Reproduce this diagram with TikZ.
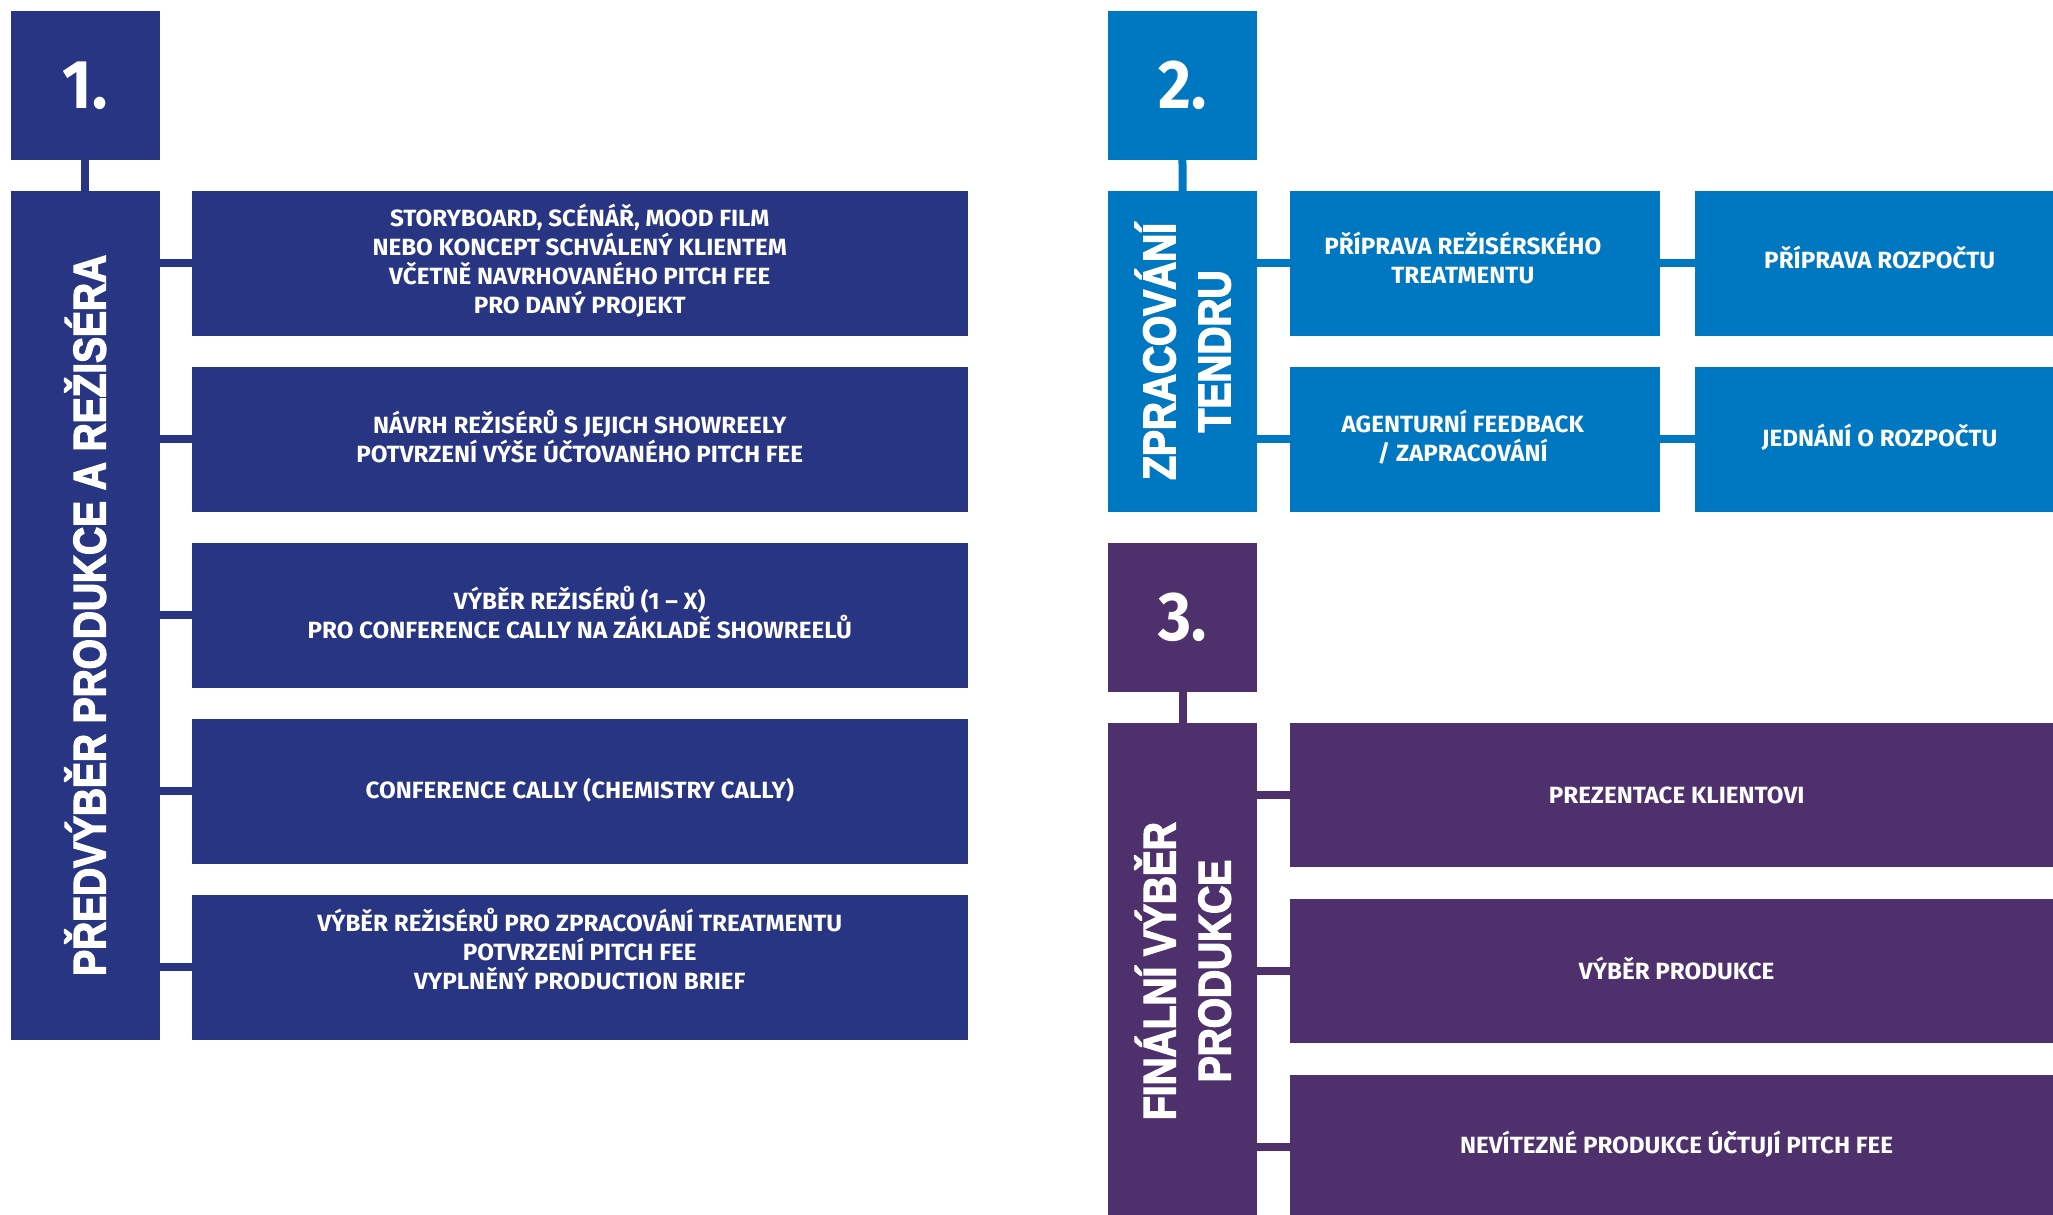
\documentclass[tikz,border=0pt]{standalone}
\usepackage{fontspec}
\newfontfamily\boxfont{Fira Sans}[FakeStretch=1.03]
\newfontfamily\numfont{Fira Sans}[FakeStretch=0.92]
\newfontfamily\labfont{Liberation Sans}[UprightFont={* Bold}, FakeStretch=0.85, FakeBold=3]
\definecolor{navy}{HTML}{283583}
\definecolor{sky}{HTML}{0077C1}
\definecolor{plum}{HTML}{4E306D}
\begin{document}
\begin{tikzpicture}[x=1pt,y=-1pt,
  blk/.style={rectangle, inner sep=0pt, outer sep=0pt, anchor=north west, draw=none},
  numbox/.style={blk, minimum width=148.5pt, minimum height=148.5pt, text=white,
    font=\numfont\bfseries\fontsize{69}{69}\selectfont},
  subbox/.style={blk, minimum width=775.5pt, minimum height=144.6pt},
  halfbox/.style={blk, minimum width=369.7pt, minimum height=144.6pt},
  tx/.style={text=white, align=center, inner sep=0pt, yshift=2.5pt,
    font=\boxfont\bfseries\fontsize{23.5}{29.1}\selectfont},
  lab/.style={text=white, align=center, inner sep=0pt, rotate=90,
    font=\labfont\fontsize{45.7}{55}\selectfont},
  link/.style={line width=8pt}
]
\useasboundingbox (0,0) rectangle (2053,1215);
\fill[white] (0,0) rectangle (2053,1215);
\clip (0,0) rectangle (2053,1215);

% ---------- column 1 ----------
\node[numbox, fill=navy] (n1) at (11,11.1) {1.};
\node[blk, fill=navy, minimum width=148.5pt, minimum height=848.6pt] (t1) at (11,191) {};
\node[lab] (l1) at (t1.center) {PŘEDVÝBĚR PRODUKCE A REŽISÉRA};
\node[subbox, fill=navy] (b1) at (192,191) {};
\node[subbox, fill=navy] (b2) at (192,367) {};
\node[subbox, fill=navy] (b3) at (192,543) {};
\node[subbox, fill=navy] (b4) at (192,719) {};
\node[subbox, fill=navy] (b5) at (192,895) {};
\node[tx] (tb1) at (b1.center) {STORYBOARD, SCÉNÁŘ, MOOD FILM\\NEBO KONCEPT SCHVÁLENÝ KLIENTEM\\VČETNĚ NAVRHOVANÉHO PITCH FEE\\PRO DANÝ PROJEKT};
\node[tx] (tb2) at (b2.center) {NÁVRH REŽISÉRŮ S JEJICH SHOWREELY\\POTVRZENÍ VÝŠE ÚČTOVANÉHO PITCH FEE};
\node[tx] (tb3) at (b3.center) {VÝBĚR REŽISÉRŮ (1 – X)\\PRO CONFERENCE CALLY NA ZÁKLADĚ SHOWREELŮ};
\node[tx, yshift=-1pt] (tb4) at (b4.center) {CONFERENCE CALLY (CHEMISTRY CALLY)};
\node[tx, yshift=16pt] (tb5) at (b5.center) {VÝBĚR REŽISÉRŮ PRO ZPRACOVÁNÍ TREATMENTU\\POTVRZENÍ PITCH FEE\\VYPLNĚNÝ PRODUCTION BRIEF};
\draw[link, navy] (n1.south) -- (t1.north);
\foreach \k in {1,...,5} \draw[link, navy] (b\k.west) -- (b\k.west -| t1.east);

% ---------- column 2 ----------
\node[numbox, fill=sky] (n2) at (1108.2,11.1) {2.};
\node[blk, fill=sky, minimum width=149pt, minimum height=320.7pt] (t2) at (1108.2,191) {};
\node[lab] (l2) at (t2.center) {ZPRACOVÁNÍ\\TENDRU};
\node[halfbox, fill=sky] (c11) at (1289.9,191) {};
\node[halfbox, fill=sky] (c12) at (1694.8,191) {};
\node[halfbox, fill=sky] (c21) at (1289.9,367) {};
\node[halfbox, fill=sky] (c22) at (1694.8,367) {};
\node[tx, xshift=-12pt, yshift=3pt] (tc11) at (c11.center) {PŘÍPRAVA REŽISÉRSKÉHO\\TREATMENTU};
\node[tx, yshift=3pt] (tc12) at (c12.center) {PŘÍPRAVA ROZPOČTU};
\node[tx, xshift=-12pt] (tc21) at (c21.center) {AGENTURNÍ FEEDBACK\\/ ZAPRACOVÁNÍ};
\node[tx] (tc22) at (c22.center) {JEDNÁNÍ O ROZPOČTU};
\draw[link, sky] (n2.south) -- (t2.north);
\draw[link, sky] (c11.west) -- (c11.west -| t2.east);
\draw[link, sky] (c21.west) -- (c21.west -| t2.east);
\draw[link, sky] (c12.west) -- (c12.west -| c11.east);
\draw[link, sky] (c22.west) -- (c22.west -| c21.east);

% ---------- column 3 ----------
\node[numbox, fill=plum, minimum width=149pt] (n3) at (1108.2,543) {3.};
\node[blk, fill=plum, minimum width=149pt, minimum height=496.6pt] (t3) at (1108.2,722.7) {};
\node[lab] (l3) at (t3.center) {FINÁLNÍ VÝBĚR\\PRODUKCE};
\node[blk, fill=plum, minimum width=773.5pt, minimum height=144.6pt] (p1) at (1289.9,722.7) {};
\node[blk, fill=plum, minimum width=773.5pt, minimum height=144.6pt] (p2) at (1289.9,898.8) {};
\node[blk, fill=plum, minimum width=773.5pt, minimum height=144.6pt] (p3) at (1289.9,1074.9) {};
\node[tx, yshift=-2.5pt] (tp1) at (p1.center) {PREZENTACE KLIENTOVI};
\node[tx] (tp2) at (p2.center) {VÝBĚR PRODUKCE};
\node[tx] (tp3) at (p3.center) {NEVÍTEZNÉ PRODUKCE ÚČTUJÍ PITCH FEE};
\draw[link, plum] (n3.south) -- (t3.north);
\foreach \k in {1,2,3} \draw[link, plum] (p\k.west) -- (p\k.west -| t3.east);
\end{tikzpicture}
\end{document}
